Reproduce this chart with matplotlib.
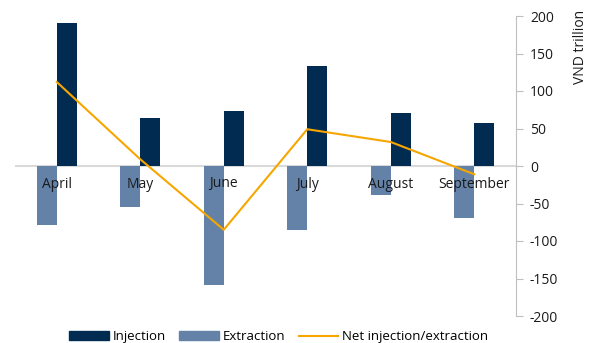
import numpy as np
import matplotlib.pyplot as plt
from matplotlib.lines import Line2D
from matplotlib.patches import Patch

plt.rcParams["font.family"] = ["Open Sans", "DejaVu Sans"]
plt.rcParams["axes.unicode_minus"] = False

# ================================
# DATA (VND trillion)
# ================================
months = ["April", "May", "June", "July", "August", "September"]
injection = [191, 64, 74, 134, 71, 58]
extraction = [-79, -55, -159, -85, -39, -69]
net = [112, 9, -85, 49, 32, -11]

yticks = [-200, -150, -100, -50, 0, 50, 100, 150, 200]

C_INJ = "#022b52"
C_EXT = "#6482a8"
C_NET = "#f7a600"
C_GRID = "#d9d9d9"

# ================================
# FIGURE
# ================================
fig = plt.figure(figsize=(5.93, 3.43), dpi=100)
ax = fig.add_axes([15 / 593, 27 / 343, 501 / 593, 300 / 343])

x = np.arange(len(months))
w = 0.24

ax.bar(x - w / 2, extraction, width=w, color=C_EXT, zorder=2)
ax.bar(x + w / 2, injection, width=w, color=C_INJ, zorder=2)
ax.plot(x, net, color=C_NET, linewidth=1.5, zorder=3)

ax.axhline(0, color=C_GRID, linewidth=1.5, zorder=1)

ax.set_xlim(-0.5, len(months) - 0.5)
ax.set_ylim(-200, 200)
ax.set_xticks([])
ax.set_yticks(yticks)

ax.yaxis.tick_right()
ax.tick_params(axis="y", direction="out", length=5, color="#bfbfbf",
               labelsize=10, labelcolor="#1a1a1a", pad=5)

for side in ["top", "left", "bottom"]:
    ax.spines[side].set_visible(False)
ax.spines["right"].set_color("#bfbfbf")

# unit label, top-aligned at the far right
fig.text(580 / 593, 1 - 10 / 343, "VND trillion", rotation=90,
         ha="center", va="top", fontsize=10, color="#1a1a1a")

# month names sit just under the zero line, on top of the bars
for xi, m in zip(x, months):
    ax.text(xi, -14, m, ha="center", va="top", fontsize=10,
            color="#1a1a1a", zorder=4)

handles = [
    Patch(color=C_INJ, label="Injection"),
    Patch(color=C_EXT, label="Extraction"),
    Line2D([0], [0], color=C_NET, linewidth=1.5, label="Net injection/extraction"),
]
fig.legend(handles=handles, loc="lower center", bbox_to_anchor=(0.47, -0.035),
           ncol=3, frameon=False, fontsize=9.5, handlelength=3.0,
           handleheight=0.6, columnspacing=1.0, handletextpad=0.3)

fig.savefig("out.png", dpi=100)
